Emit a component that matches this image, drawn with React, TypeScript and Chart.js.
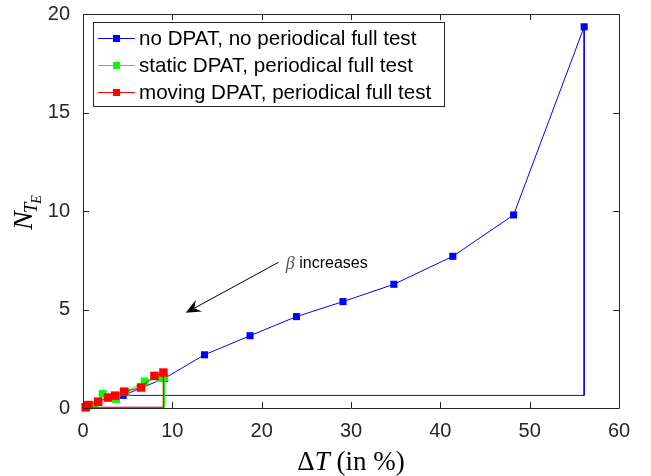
import { useEffect, useRef } from 'react';
import { Chart, registerables } from 'chart.js';

Chart.register(...registerables);

// ---- data ----
const blueX = [4.5, 9.1, 13.6, 18.7, 23.9, 29.1, 34.8, 41.4, 48.2, 56.1];
const blueY = [0.64, 1.5, 2.7, 3.67, 4.64, 5.4, 6.28, 7.7, 9.8, 19.35];

const greenX = [0.3, 1.3, 2.2, 3.7, 4.8, 6.9, 8.6, 9.1];
const greenY = [0.02, 0.15, 0.72, 0.45, 0.8, 1.35, 1.52, 1.55];

const redX = [0.3, 0.6, 1.7, 2.8, 3.6, 4.6, 6.5, 8.0, 9.0];
const redY = [0.04, 0.15, 0.32, 0.53, 0.63, 0.83, 1.04, 1.63, 1.8];

const seriesLabels = [
  'no DPAT, no periodical full test',
  'static DPAT, periodical full test',
  'moving DPAT, periodical full test',
];
const seriesColors = ['#0000ff', '#00ff00', '#ff0000'];

const xTicks = [0, 10, 20, 30, 40, 50, 60];
const yTicks = [0, 5, 10, 15, 20];

const arrowTail = { x: 21.9, y: 7.4 };
const arrowTip = { x: 11.5, y: 4.83 };
const arrowText = { x: 22.7, y: 7.31, beta: 'β', rest: ' increases' };

const xTitle = ['Δ', 'T', ' (in %)'];

const AXIS_COLOR = '#262626';
const SANS = '"Liberation Sans", Arial, sans-serif';
const SERIF = '"Liberation Serif", "Times New Roman", serif';

function closedLoop(xs: number[], ys: number[]) {
  const pts = xs.map((x, i) => ({ x, y: ys[i] }));
  pts.push({ x: xs[xs.length - 1], y: ys[0] });
  pts.push({ x: xs[0], y: ys[0] });
  return pts;
}

function radii(n: number, r: number) {
  const a: number[] = [];
  for (let i = 0; i < n; i++) a.push(r);
  a.push(0, 0);
  return a;
}

const decorPlugin = {
  id: 'decor',
  afterDatasetsDraw(chart: any) {
    const { ctx, chartArea } = chart;
    const { left, right, top, bottom } = chartArea;
    const xs = chart.scales.x;
    const ys = chart.scales.y;
    ctx.save();
    ctx.strokeStyle = AXIS_COLOR;
    ctx.lineWidth = 1;
    ctx.beginPath();
    ctx.rect(Math.round(left) + 0.5, Math.round(top) + 0.5, Math.round(right - left), Math.round(bottom - top));
    const tl = 6;
    xTicks.forEach((v) => {
      const p = Math.round(xs.getPixelForValue(v)) + 0.5;
      ctx.moveTo(p, bottom);
      ctx.lineTo(p, bottom - tl);
      ctx.moveTo(p, top);
      ctx.lineTo(p, top + tl);
    });
    yTicks.forEach((v) => {
      const p = Math.round(ys.getPixelForValue(v)) + 0.5;
      ctx.moveTo(left, p);
      ctx.lineTo(left + tl, p);
      ctx.moveTo(right, p);
      ctx.lineTo(right - tl, p);
    });
    ctx.stroke();
    ctx.restore();
  },
  afterDraw(chart: any) {
    const { ctx, chartArea } = chart;
    const { left, right, top, bottom } = chartArea;
    const xs = chart.scales.x;
    const ys = chart.scales.y;
    ctx.save();

    // legend
    const lx = left + 10, ly = top + 8, lw = 351, lh = 84;
    ctx.fillStyle = '#ffffff';
    ctx.fillRect(lx, ly, lw, lh);
    ctx.strokeStyle = AXIS_COLOR;
    ctx.lineWidth = 1;
    ctx.strokeRect(Math.round(lx) + 0.5, Math.round(ly) + 0.5, lw, lh);
    ctx.font = '20.6px ' + SANS;
    ctx.textBaseline = 'middle';
    ctx.textAlign = 'left';
    seriesLabels.forEach((label, i) => {
      const cy = ly + 16 + i * 27;
      ctx.strokeStyle = seriesColors[i];
      ctx.beginPath();
      ctx.moveTo(lx + 5, cy + 0.5);
      ctx.lineTo(lx + 42, cy + 0.5);
      ctx.stroke();
      ctx.fillStyle = seriesColors[i];
      ctx.fillRect(lx + 20, cy - 3, 7, 7);
      ctx.fillStyle = '#000000';
      ctx.fillText(label, lx + 46, cy + 1);
    });

    // arrow annotation
    const tx = xs.getPixelForValue(arrowTail.x), ty = ys.getPixelForValue(arrowTail.y);
    const hx = xs.getPixelForValue(arrowTip.x), hy = ys.getPixelForValue(arrowTip.y);
    const ang = Math.atan2(hy - ty, hx - tx);
    const L = 15, W = 6.5;
    const bx = hx - L * Math.cos(ang), by = hy - L * Math.sin(ang);
    const nx = hx - L * 0.65 * Math.cos(ang), ny = hy - L * 0.65 * Math.sin(ang);
    ctx.strokeStyle = '#000000';
    ctx.lineWidth = 1;
    ctx.beginPath();
    ctx.moveTo(tx, ty);
    ctx.lineTo(nx, ny);
    ctx.stroke();
    ctx.fillStyle = '#000000';
    ctx.beginPath();
    ctx.moveTo(hx, hy);
    ctx.lineTo(bx + W * Math.sin(ang), by - W * Math.cos(ang));
    ctx.lineTo(nx, ny);
    ctx.lineTo(bx - W * Math.sin(ang), by + W * Math.cos(ang));
    ctx.closePath();
    ctx.fill();

    const atx = xs.getPixelForValue(arrowText.x), aty = ys.getPixelForValue(arrowText.y);
    ctx.textBaseline = 'middle';
    ctx.font = 'italic 18px ' + SERIF;
    ctx.fillStyle = '#555555';
    ctx.fillText(arrowText.beta, atx, aty);
    const bw = ctx.measureText(arrowText.beta).width;
    ctx.font = '16px ' + SANS;
    ctx.fillStyle = '#000000';
    ctx.fillText(arrowText.rest, atx + bw, aty);

    // x title
    ctx.textBaseline = 'alphabetic';
    const fonts = ['27px ' + SERIF, 'italic 27px ' + SERIF, '27px ' + SERIF];
    let total = 0;
    const widths = xTitle.map((s, i) => {
      ctx.font = fonts[i];
      const w = ctx.measureText(s).width;
      total += w;
      return w;
    });
    let cx = (left + right) / 2 - total / 2;
    const baseY = bottom + 62;
    xTitle.forEach((s, i) => {
      ctx.font = fonts[i];
      ctx.fillStyle = '#000000';
      ctx.fillText(s, cx, baseY);
      cx += widths[i];
    });

    // y title  N_{T_E}
    ctx.save();
    ctx.translate(32, (top + bottom) / 2);
    ctx.rotate(-Math.PI / 2);
    const parts = [
      { s: 'N', f: 'italic 28px ' + SERIF, dy: 0 },
      { s: 'T', f: 'italic 19px ' + SERIF, dy: 5 },
      { s: 'E', f: 'italic 14px ' + SERIF, dy: 9 },
    ];
    let tw = 0;
    const pw = parts.map((p) => {
      ctx.font = p.f;
      const w = ctx.measureText(p.s).width;
      tw += w;
      return w;
    });
    let px = -tw / 2;
    parts.forEach((p, i) => {
      ctx.font = p.f;
      ctx.fillStyle = '#000000';
      ctx.fillText(p.s, px, p.dy);
      px += pw[i] - (i === 0 ? 2 : 1);
    });
    ctx.restore();

    ctx.restore();
  },
};

export default function App() {
  const ref = useRef<HTMLCanvasElement | null>(null);
  useEffect(() => {
    document.body.style.margin = '0';
    const canvas = ref.current;
    if (!canvas) return;
    const mk = (xs: number[], ys: number[], i: number, order: number, r: number) => ({
      label: seriesLabels[i],
      data: closedLoop(xs, ys),
      showLine: true,
      borderColor: seriesColors[i],
      backgroundColor: seriesColors[i],
      borderWidth: 1,
      pointStyle: 'rect',
      pointRadius: radii(xs.length, r),
      pointBorderWidth: 0,
      tension: 0,
      order,
      clip: 10,
    });
    const chart = new Chart(canvas, {
      type: 'scatter',
      data: {
        datasets: [
          mk(blueX, blueY, 0, 3, 5),
          mk(greenX, greenY, 1, 2, 5.5),
          mk(redX, redY, 2, 1, 6),
        ] as any,
      },
      options: {
        animation: false,
        responsive: false,
        devicePixelRatio: 1,
        layout: { padding: { left: 0, right: 32, top: 14, bottom: 0 } },
        plugins: { legend: { display: false }, tooltip: { enabled: false } },
        scales: {
          x: {
            type: 'linear',
            min: 0,
            max: 60,
            afterBuildTicks: (s: any) => {
              s.ticks = xTicks.map((v) => ({ value: v }));
            },
            afterFit: (s: any) => {
              s.height = 68;
              s.paddingLeft = 0;
              s.paddingRight = 0;
              s.paddingTop = 0;
              s.paddingBottom = 0;
            },
            grid: { display: false, drawTicks: false },
            border: { display: false },
            ticks: {
              padding: 11,
              color: AXIS_COLOR,
              font: { family: SANS, size: 20 },
              maxRotation: 0,
            },
          },
          y: {
            type: 'linear',
            min: 0,
            max: 20,
            afterBuildTicks: (s: any) => {
              s.ticks = yTicks.map((v) => ({ value: v }));
            },
            afterFit: (s: any) => {
              s.width = 83;
              s.paddingLeft = 0;
              s.paddingRight = 0;
              s.paddingTop = 0;
              s.paddingBottom = 0;
            },
            grid: { display: false, drawTicks: false },
            border: { display: false },
            ticks: {
              padding: 13,
              color: AXIS_COLOR,
              font: { family: SANS, size: 20 },
            },
          },
        },
      },
      plugins: [decorPlugin],
    });
    return () => chart.destroy();
  }, []);
  return <canvas ref={ref} width={651} height={476} style={{ display: 'block', width: 651, height: 476 }} />;
}
